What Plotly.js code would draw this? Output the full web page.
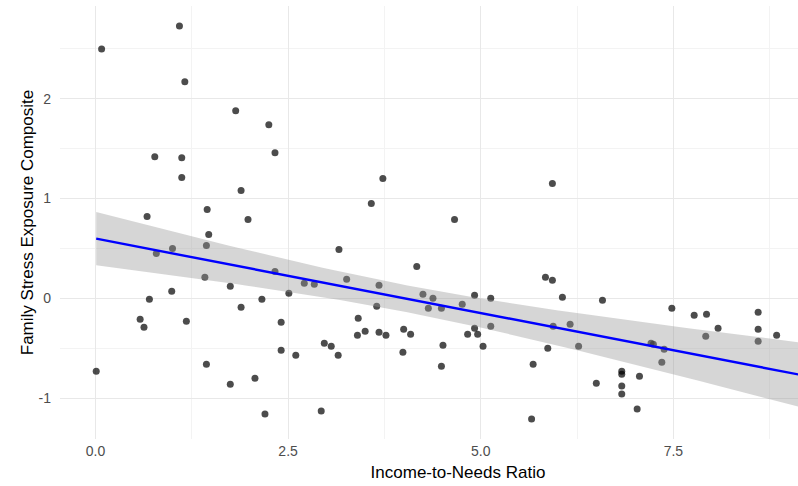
<!DOCTYPE html>
<html>
<head>
<meta charset="utf-8">
<script src="https://cdn.plot.ly/plotly-3.0.1.min.js"></script>
<style>
  html, body { margin: 0; padding: 0; background: #ffffff; width: 798px; height: 486px; overflow: hidden; }
  #chart { width: 856px; height: 486px; }
</style>
</head>
<body>
<div id="chart"></div>
<script>
// Income-to-needs ratio for each family
const incomeToNeeds = [
  1.09, 0.08, 1.16, 1.82, 0.77, 1.12, 1.12, 1.89, 1.45, 0.67,
  1.98, 1.47, 1.44, 1.00, 0.79, 1.42, 1.75, 0.99, 0.70, 1.89,
  0.58, 0.63, 1.18, 1.44, 0.01, 1.75, 2.07, 2.16, 2.25, 2.33,
  3.73, 3.58, 3.16, 4.17, 2.33, 3.26, 2.71, 2.84, 3.68, 2.51,
  3.65, 4.25, 4.38, 4.32, 4.49, 2.41, 3.41, 3.40, 3.50, 3.68,
  3.77, 4.00, 4.09, 4.51, 4.49, 2.41, 2.60, 2.97, 3.06, 3.15,
  3.99, 2.20, 2.93, 5.93, 4.66, 5.84, 5.93, 4.92, 5.13, 6.06,
  6.58, 4.76, 4.92, 4.83, 4.96, 5.13, 5.03, 5.94, 6.16, 5.87,
  6.27, 5.68, 5.66, 6.50, 6.83, 6.83, 6.83, 6.83, 7.03, 7.06,
  7.48, 7.77, 7.93, 8.60, 8.60, 8.84, 8.08, 7.92, 8.60, 7.21,
  7.24, 7.38, 7.35
];

// Family stress exposure composite score for each family
const stressComposite = [
  2.73, 2.50, 2.17, 1.88, 1.42, 1.41, 1.21, 1.08, 0.89, 0.82,
  0.79, 0.64, 0.53, 0.50, 0.45, 0.21, 0.12, 0.07, -0.01, -0.09,
  -0.21, -0.29, -0.23, -0.66, -0.73, -0.86, -0.80, -0.01, 1.74, 1.46,
  1.20, 0.95, 0.49, 0.32, 0.27, 0.19, 0.15, 0.14, 0.13, 0.05,
  -0.08, 0.04, 0.00, -0.10, -0.10, -0.24, -0.20, -0.37, -0.33, -0.34,
  -0.37, -0.31, -0.36, -0.47, -0.68, -0.52, -0.57, -0.45, -0.48, -0.57,
  -0.54, -1.16, -1.13, 1.15, 0.79, 0.21, 0.18, 0.03, 0.00, 0.01,
  -0.02, -0.06, -0.30, -0.36, -0.36, -0.28, -0.48, -0.28, -0.26, -0.50,
  -0.48, -0.66, -1.21, -0.85, -0.73, -0.76, -0.88, -0.96, -1.11, -0.78,
  -0.10, -0.17, -0.16, -0.14, -0.31, -0.37, -0.30, -0.38, -0.43, -0.45,
  -0.46, -0.51, -0.64
];

// Axis ticks
const xTickVals = [0, 2.5, 5, 7.5, 10];
const xTickText = ["0.0", "2.5", "5.0", "7.5", "10.0"];
const yTickVals = [-1, 0, 1, 2];
const yTickText = ["-1", "0", "1", "2"];

// Ordinary least squares fit with a 95% confidence band for the mean
function linearFit(xs, ys) {
  const n = xs.length;
  const mx = xs.reduce((a, b) => a + b, 0) / n;
  const my = ys.reduce((a, b) => a + b, 0) / n;
  let sxx = 0, sxy = 0;
  for (let i = 0; i < n; i++) {
    sxx += (xs[i] - mx) * (xs[i] - mx);
    sxy += (xs[i] - mx) * (ys[i] - my);
  }
  const slope = sxy / sxx;
  const intercept = my - slope * mx;
  let sse = 0;
  for (let i = 0; i < n; i++) {
    const r = ys[i] - (intercept + slope * xs[i]);
    sse += r * r;
  }
  const s = Math.sqrt(sse / (n - 2));
  return { n, mx, sxx, slope, intercept, s };
}

const fit = linearFit(incomeToNeeds, stressComposite);
const tCrit = 1.984; // t(0.975, df = n - 2)
const xMin = Math.min(...incomeToNeeds);
const xMax = 9.8;
const steps = 80;
const fitX = [], fitY = [], lowY = [], highY = [];
for (let k = 0; k <= steps; k++) {
  const x = xMin + (xMax - xMin) * k / steps;
  const yhat = fit.intercept + fit.slope * x;
  const se = fit.s * Math.sqrt(1 / fit.n + (x - fit.mx) * (x - fit.mx) / fit.sxx);
  fitX.push(x);
  fitY.push(yhat);
  lowY.push(yhat - tCrit * se);
  highY.push(yhat + tCrit * se);
}

const traces = [
  {
    x: incomeToNeeds,
    y: stressComposite,
    type: "scatter",
    mode: "markers",
    marker: { size: 7, color: "rgba(0,0,0,0.7)", line: { width: 0 } },
    hoverinfo: "x+y",
    showlegend: false
  },
  {
    x: fitX,
    y: lowY,
    type: "scatter",
    mode: "lines",
    line: { width: 0, color: "rgba(153,153,153,0)" },
    hoverinfo: "skip",
    showlegend: false
  },
  {
    x: fitX,
    y: highY,
    type: "scatter",
    mode: "lines",
    fill: "tonexty",
    fillcolor: "rgba(153,153,153,0.4)",
    line: { width: 0, color: "rgba(153,153,153,0)" },
    hoverinfo: "skip",
    showlegend: false
  },
  {
    x: fitX,
    y: fitY,
    type: "scatter",
    mode: "lines",
    line: { color: "#0000ff", width: 2.4 },
    hoverinfo: "skip",
    showlegend: false
  }
];

const tickFont = { family: "Liberation Sans, Arial, sans-serif", size: 14, color: "#4d4d4d" };
const titleFont = { family: "Liberation Sans, Arial, sans-serif", size: 17, color: "#000000" };

// The plotting panel runs a little past the right edge of the 798px viewport
const layout = {
  width: 856,
  height: 486,
  margin: { l: 60, r: 0, t: 6, b: 47 },
  paper_bgcolor: "#ffffff",
  plot_bgcolor: "#ffffff",
  showlegend: false,
  xaxis: {
    range: [-0.46, 9.87],
    tickmode: "array",
    tickvals: xTickVals,
    ticktext: xTickText,
    ticks: "",
    tickfont: tickFont,
    ticklabelstandoff: 2,
    showgrid: true,
    gridcolor: "#e8e8e8",
    gridwidth: 1,
    minor: { tickmode: "linear", tick0: 1.25, dtick: 2.5, showgrid: true, gridcolor: "#f3f3f3", gridwidth: 1 },
    zeroline: false,
    showline: false,
    title: { text: "Income-to-Needs Ratio", font: titleFont, standoff: 8 }
  },
  yaxis: {
    range: [-1.41, 2.93],
    tickmode: "array",
    tickvals: yTickVals,
    ticktext: yTickText,
    ticks: "",
    tickfont: tickFont,
    ticklabelstandoff: 8,
    showgrid: true,
    gridcolor: "#e8e8e8",
    gridwidth: 1,
    minor: { tickmode: "linear", tick0: 0.5, dtick: 1, showgrid: true, gridcolor: "#f3f3f3", gridwidth: 1 },
    zeroline: false,
    showline: false,
    title: { text: "Family Stress Exposure Composite", font: titleFont, standoff: 0 }
  }
};

Plotly.newPlot("chart", traces, layout, { displayModeBar: false, staticPlot: true });
</script>
</body>
</html>
